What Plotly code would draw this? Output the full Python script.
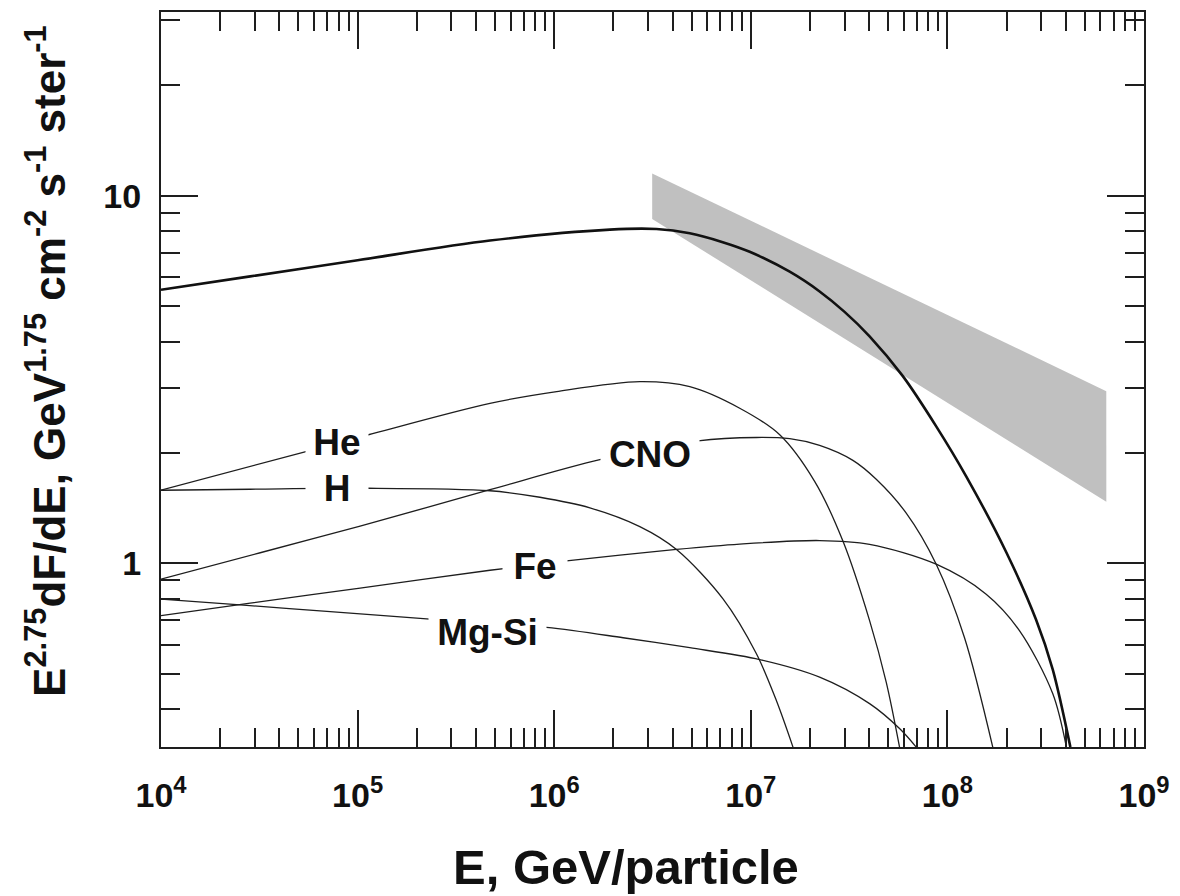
import plotly.graph_objects as go

# Energy per particle (GeV) and E^2.75 dF/dE for each composition group
e_h = [1.0e4, 2.843e4, 1.131e5, 4.713e5, 8.46e5, 1.519e6, 2.726e6, 4.188e6,
       7.222e6, 1.068e7, 1.349e7, 1.639e7]
f_h = [1.580, 1.590, 1.600, 1.575, 1.512, 1.415, 1.258, 1.090,
       0.800, 0.567, 0.423, 0.316]

e_he = [1.0e4, 5.52e4, 1.135e5, 4.713e5, 1.029e6, 2.726e6, 4.893e6, 8.783e6,
        1.403e7, 2.112e7, 2.941e7, 4.020e7, 4.887e7, 5.709e7]
f_he = [1.580, 2.016, 2.237, 2.724, 2.931, 3.119, 3.023, 2.641,
        2.237, 1.671, 1.149, 0.698, 0.474, 0.316]

e_cno = [1.0e4, 3.196e4, 1.030e5, 4.713e5, 1.707e6, 5.393e6, 1.068e7, 1.577e7,
         2.239e7, 3.306e7, 4.346e7, 6.175e7, 8.772e7, 1.222e8, 1.701e8]
f_cno = [0.905, 1.068, 1.262, 1.585, 1.913, 2.154, 2.199, 2.182,
         2.092, 1.905, 1.692, 1.369, 0.994, 0.627, 0.316]

e_mgsi = [1.0e4, 2.628e4, 6.975e4, 2.335e5, 9.150e5, 2.242e6, 4.893e6, 1.110e7,
          2.239e7, 4.020e7, 5.709e7, 6.942e7]
f_mgsi = [0.799, 0.769, 0.740, 0.705, 0.669, 0.627, 0.589, 0.547,
          0.490, 0.415, 0.355, 0.316]

e_fe = [1.0e4, 2.843e4, 1.030e5, 4.713e5, 1.156e6, 4.188e6, 8.783e6, 2.239e7,
        4.020e7, 8.772e7, 1.575e8, 2.325e8, 3.433e8, 4.029e8]
f_fe = [0.720, 0.779, 0.856, 0.957, 1.015, 1.091, 1.128, 1.153,
        1.126, 0.994, 0.824, 0.656, 0.442, 0.316]

e_total = [1.0e4, 2.843e4, 1.0e5, 4.713e5, 1.919e6, 3.313e6, 4.893e6, 7.198e6,
           9.872e6, 1.577e7, 2.239e7, 2.999e7, 4.020e7, 5.935e7, 8.772e7,
           1.246e8, 1.990e8, 2.826e8, 3.433e8, 4.222e8]
f_total = [5.549, 6.033, 6.677, 7.551, 8.088, 8.118, 7.904, 7.477,
           7.039, 6.212, 5.490, 4.831, 4.146, 3.230, 2.358,
           1.724, 1.073, 0.702, 0.514, 0.316]

# Measured all-particle band (upper and lower edges)
band_e = [3.15e6, 6.43e8]
band_hi = [11.5, 2.94]
band_lo = [8.65, 1.47]

x_ticks = [1e4, 1e5, 1e6, 1e7, 1e8, 1e9]
x_ticktext = ["10<sup>4</sup>", "10<sup>5</sup>", "10<sup>6</sup>",
              "10<sup>7</sup>", "10<sup>8</sup>", "10<sup>9</sup>"]
y_ticks = [1, 10]
y_ticktext = ["1", "10"]

FONT = "Liberation Sans, Arial, Helvetica, sans-serif"
INK = "#1e1e1e"

fig = go.Figure()

fig.add_trace(go.Scatter(
    x=band_e + band_e[::-1], y=band_hi + band_lo[::-1],
    mode="lines", fill="toself", fillcolor="#c0c0c0",
    line=dict(width=0, color="#c0c0c0"), hoverinfo="skip", showlegend=False))

for e, f in [(e_h, f_h), (e_he, f_he), (e_cno, f_cno), (e_mgsi, f_mgsi), (e_fe, f_fe)]:
    fig.add_trace(go.Scatter(
        x=e, y=f, mode="lines",
        line=dict(color=INK, width=1.3, shape="spline", smoothing=0.9),
        showlegend=False))

fig.add_trace(go.Scatter(
    x=e_total, y=f_total, mode="lines",
    line=dict(color="#111111", width=2.6, shape="spline", smoothing=0.9),
    showlegend=False))

# Component labels sit on white boxes that interrupt the curves
labels = [
    ("He", 4.896, 0.331, 62, 38),
    ("H", 4.896, 0.204, 62, 34),
    ("CNO", 6.487, 0.296, 98, 40),
    ("Fe", 5.902, -0.007, 64, 40),
    ("Mg-Si", 5.663, -0.187, 117, 46),
]
for text, lx, ly, w, h in labels:
    fig.add_annotation(
        x=lx, y=ly, xref="x", yref="y", text=text, showarrow=False,
        width=w, height=h, bgcolor="white", borderpad=0,
        font=dict(family=FONT, size=37, color="#111", weight="bold"))

fig.add_annotation(
    xref="paper", yref="paper", x=0.473, y=-0.163,
    text="E, GeV/particle", showarrow=False, xanchor="center", yanchor="middle",
    font=dict(family=FONT, size=49, color="#111", weight="bold"))

fig.add_annotation(
    xref="paper", yref="paper", x=-0.1175, y=0.526, textangle=-90,
    text="E<sup>2.75</sup>dF/dE, GeV<sup>1.75</sup> cm<sup>-2</sup> s<sup>-1</sup> ster<sup>-1</sup>",
    showarrow=False, xanchor="center", yanchor="middle",
    font=dict(family=FONT, size=44, color="#111", weight="bold"))

x_minor = [k * 10 ** d for d in range(4, 9) for k in range(2, 10)]
y_minor = [0.4, 0.5, 0.6, 0.7, 0.8, 0.9, 2, 3, 4, 5, 6, 7, 8, 9, 20, 30]

axis_common = dict(
    type="log", showline=True, linewidth=2, linecolor=INK, mirror="allticks",
    ticks="inside", ticklen=37, tickwidth=2, tickcolor=INK,
    showgrid=False, zeroline=False,
    tickfont=dict(family=FONT, size=34, color="#111", weight="bold"),
)

fig.update_xaxes(
    range=[4, 9], tickvals=x_ticks, ticktext=x_ticktext, ticklabelstandoff=17,
    minor=dict(ticks="inside", ticklen=19, tickwidth=2, tickcolor=INK,
               tickvals=x_minor, showgrid=False),
    **axis_common)
fig.update_yaxes(
    range=[-0.5, 1.5], tickvals=y_ticks, ticktext=y_ticktext, ticklabelstandoff=11,
    minor=dict(ticks="inside", ticklen=19, tickwidth=2, tickcolor=INK,
               tickvals=y_minor, showgrid=False),
    **axis_common)

fig.update_layout(
    width=1180, height=896,
    margin=dict(l=161, r=35, t=10, b=149),
    paper_bgcolor="white", plot_bgcolor="white",
    showlegend=False,
)

fig.write_html("out.html")
